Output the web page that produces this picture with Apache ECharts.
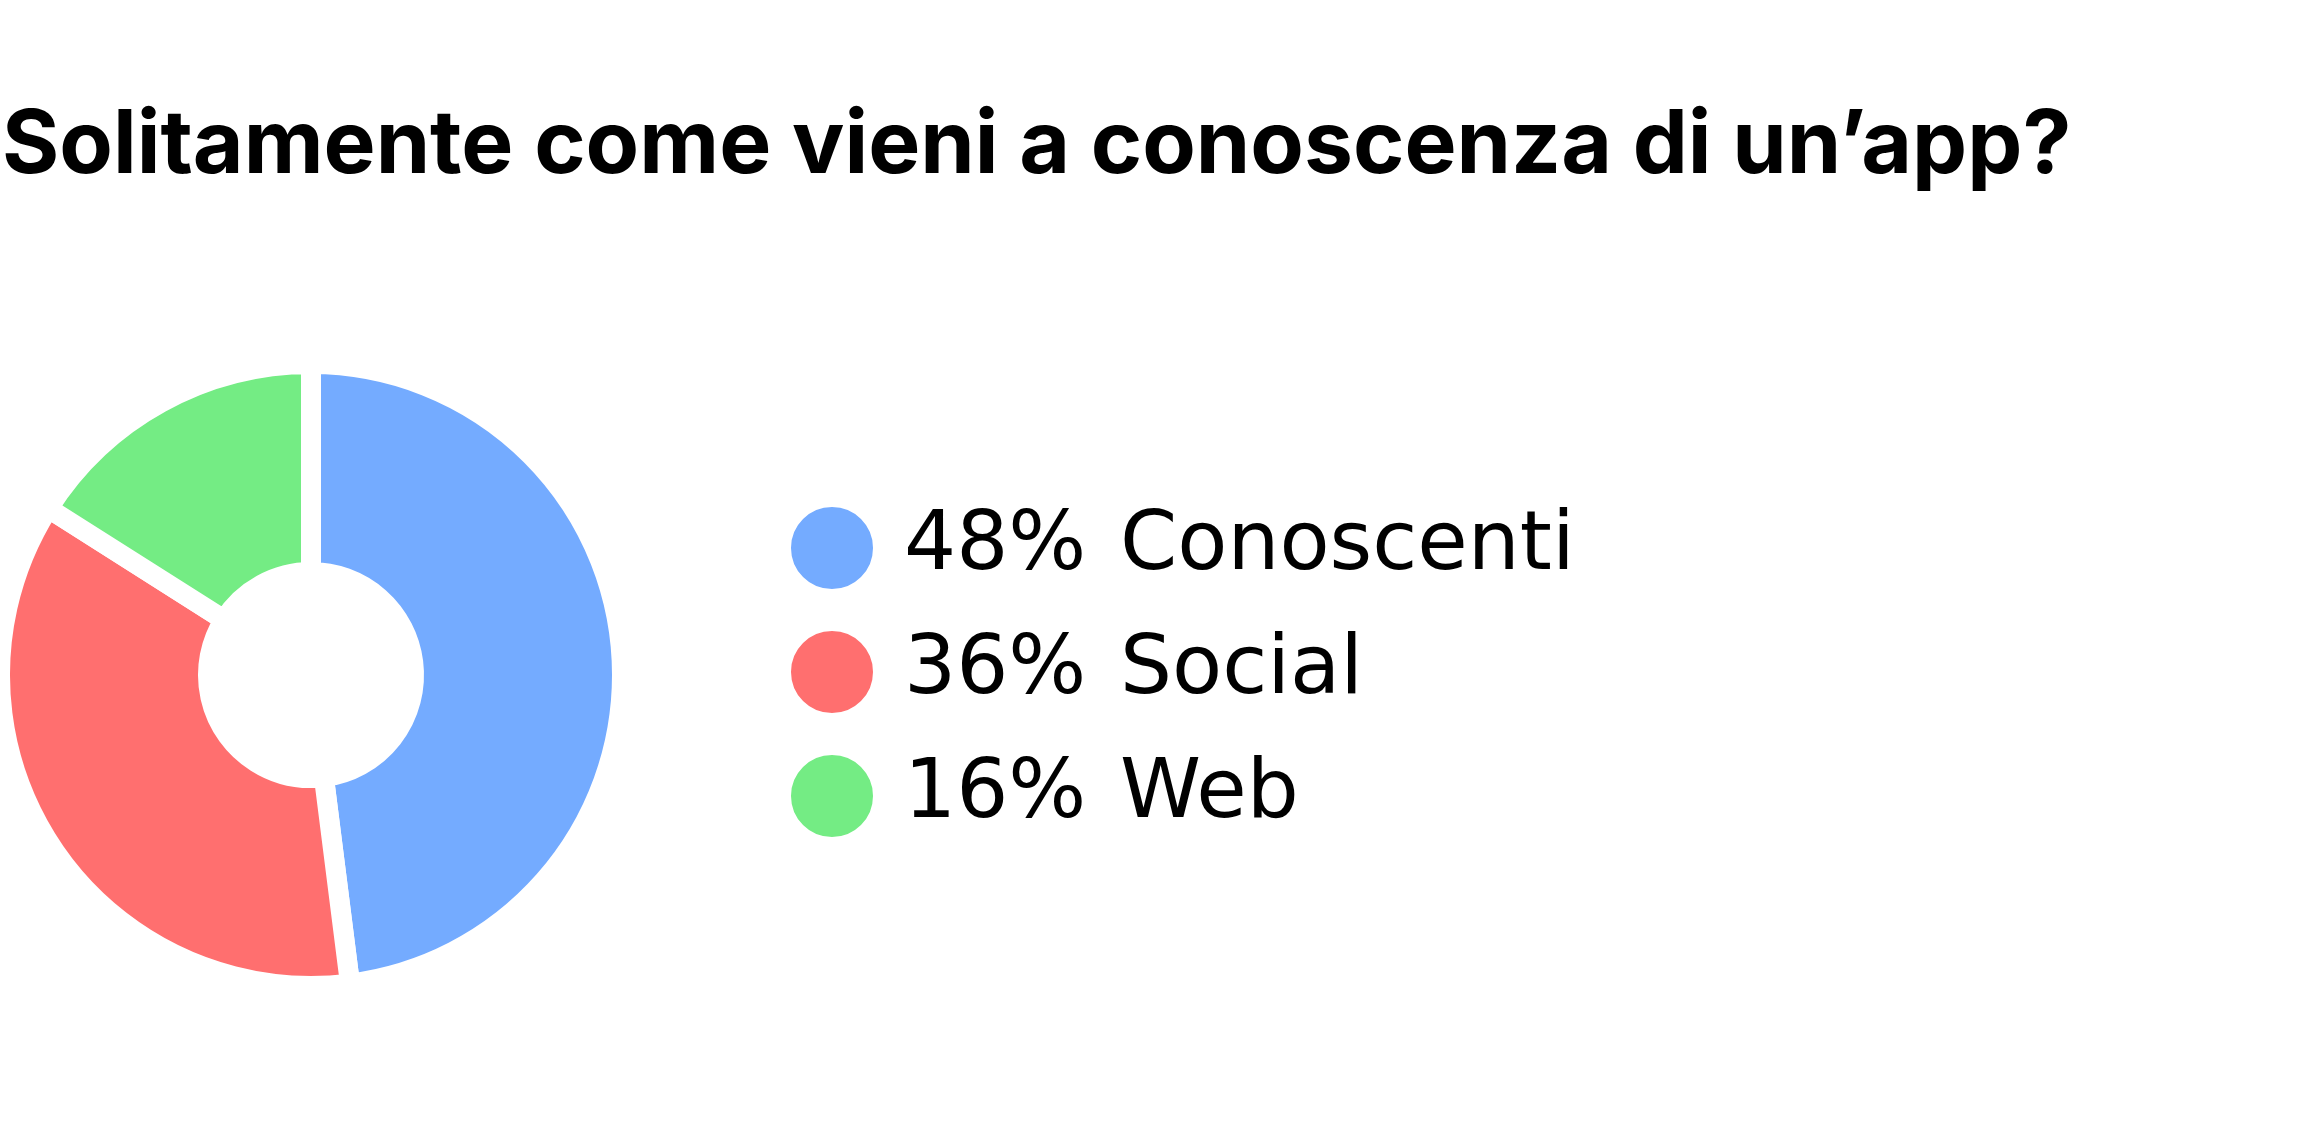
<!DOCTYPE html>
<html><head><meta charset="utf-8">
<script src="https://cdn.jsdelivr.net/npm/echarts@6/dist/echarts.min.js"></script>
<style>html,body{margin:0;padding:0;background:#fff}#c{width:2317px;height:1146px}</style>
</head><body><div id="c"></div>
<script>
const titleText = 'Solitamente come vieni a conoscenza di un’app?';
const categories = ['Conoscenti', 'Social', 'Web'];
const values = [48, 36, 16];
const colors = ['#74abff', '#ff6f6f', '#74ec84'];

const chart = echarts.init(document.getElementById('c'));
const data = categories.map((c, i) => ({ name: c, value: values[i], itemStyle: { color: colors[i] } }));
const pct = {};
categories.forEach((c, i) => { pct[c] = values[i] + '%'; });

chart.setOption({
  animation: false,
  title: {
    text: titleText, left: 2, top: 103, padding: 0,
    textStyle: { fontFamily: 'Inter', fontWeight: 'bold', fontSize: 87.5, color: '#000' }
  },
  legend: {
    orient: 'vertical', left: 789, top: 505, padding: 0,
    icon: 'circle', itemWidth: 84, itemHeight: 84, itemGap: 38,
    selectedMode: false,
    formatter: n => '{p|' + pct[n] + '}{n|' + n + '}',
    textStyle: {
      rich: {
        p: { fontFamily: 'DejaVu Sans', fontSize: 82, color: '#000', width: 216, padding: [0, 0, 0, 25], lineHeight: 84 },
        n: { fontFamily: 'DejaVu Sans', fontSize: 82, color: '#000', lineHeight: 84 }
      }
    }
  },
  series: [{
    type: 'pie', center: [311, 675], radius: [103, 311],
    startAngle: 90, clockwise: true,
    label: { show: false }, labelLine: { show: false },
    itemStyle: { borderColor: '#fff', borderWidth: 20 },
    emphasis: { disabled: true },
    data: data
  }]
});
</script></body></html>
